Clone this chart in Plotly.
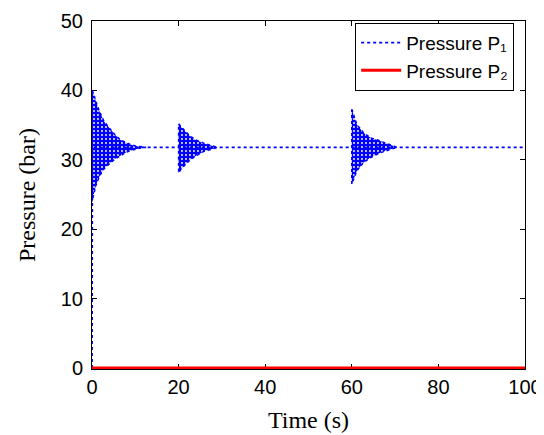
import plotly.graph_objects as go

# ---- data ----
steady_time = [0, 0.08, 100]
steady_p1 = [0, 31.8, 31.8]

p2_time = [0, 100]
p2_values = [0, 0]

# burst 1 (starts at t = 0 s)
b1_onset = 0
b1_tau = [0, 0.4, 0.9, 1.7, 2.8, 4.2, 5.3, 6.5, 7.7, 8.8, 10.0, 11.2, 12.5]
b1_upper = [40.0, 39.5, 38.4, 37.0, 35.5, 34.4, 33.6, 32.9, 32.5, 32.2, 32.0, 31.9, 31.82]
b1_lower = [24.0, 25.0, 26.3, 27.6, 28.7, 29.5, 30.1, 30.6, 31.0, 31.3, 31.5, 31.7, 31.78]

# burst 2 (starts at t = 20 s)
b2_onset = 20
b2_tau = [0, 0.5, 1.55, 2.7, 3.85, 5.8, 7.5, 9.0]
b2_upper = [35.2, 34.8, 34.1, 33.4, 32.9, 32.4, 32.1, 31.82]
b2_lower = [28.1, 28.6, 29.3, 30.0, 30.5, 31.2, 31.5, 31.78]

# burst 3 (starts at t = 60 s)
b3_onset = 60
b3_tau = [0, 1.15, 2.7, 4.25, 6.6, 8.9, 10.5]
b3_upper = [37.3, 35.1, 33.9, 33.2, 32.7, 32.2, 31.82]
b3_lower = [26.5, 28.4, 29.6, 30.3, 31.0, 31.5, 31.78]

x_ticks = [0, 20, 40, 60, 80, 100]
y_ticks = [0, 10, 20, 30, 40, 50]

BLUE = "#0000ff"
RED = "#ff0000"

fig = go.Figure()

for onset, tau, up, lo in [
    (b1_onset, b1_tau, b1_upper, b1_lower),
    (b2_onset, b2_tau, b2_upper, b2_lower),
    (b3_onset, b3_tau, b3_upper, b3_lower),
]:
    xs = [onset + t for t in tau] + [onset + t for t in reversed(tau)] + [onset]
    ys = list(up) + list(reversed(lo)) + [up[0]]
    fig.add_trace(go.Scatter(
        x=xs, y=ys, mode="lines", fill="toself",
        fillcolor=BLUE,
        fillpattern=dict(shape=".", bgcolor=BLUE, fgcolor="white",
                         size=4, solidity=0.18, fillmode="replace"),
        line=dict(color=BLUE, width=1.5, dash="dot"),
        showlegend=False, hoverinfo="skip",
    ))

fig.add_trace(go.Scatter(
    x=steady_time, y=steady_p1, mode="lines",
    name="Pressure P\u2081",
    line=dict(color=BLUE, width=1.8, dash="dot"),
))
fig.add_trace(go.Scatter(
    x=p2_time, y=p2_values, mode="lines",
    name="Pressure P\u2082",
    line=dict(color=RED, width=3),
))

axis_common = dict(
    showline=True, linecolor="black", linewidth=1,
    mirror="ticks", ticks="inside", ticklen=5, tickcolor="black",
    showgrid=False, zeroline=False, automargin=False,
    ticklabeloverflow="allow",
    tickfont=dict(family="Liberation Sans, Arial", size=20, color="black"),
    layer="below traces",
)

fig.update_xaxes(range=[0, 100], tickvals=x_ticks,
                 title=dict(text="Time (s)", standoff=14,
                            font=dict(family="Liberation Serif, Times New Roman", size=24, color="black")),
                 **axis_common)
fig.update_yaxes(range=[-0.15, 50], tickvals=y_ticks, ticklabelstandoff=4,
                 title=dict(text="Pressure (bar)", standoff=18,
                            font=dict(family="Liberation Serif, Times New Roman", size=24, color="black")),
                 **axis_common)

fig.update_layout(
    width=536, height=427,
    margin=dict(l=84, r=19, t=13, b=66),
    paper_bgcolor="white", plot_bgcolor="white",
    showlegend=True,
    legend=dict(x=0.975, y=0.995, xanchor="right", yanchor="top",
                bgcolor="white", bordercolor="black", borderwidth=1,
                font=dict(family="Liberation Sans, Arial", size=19, color="black"),
                tracegroupgap=0, itemwidth=40),
)

fig.write_html("out.html")
